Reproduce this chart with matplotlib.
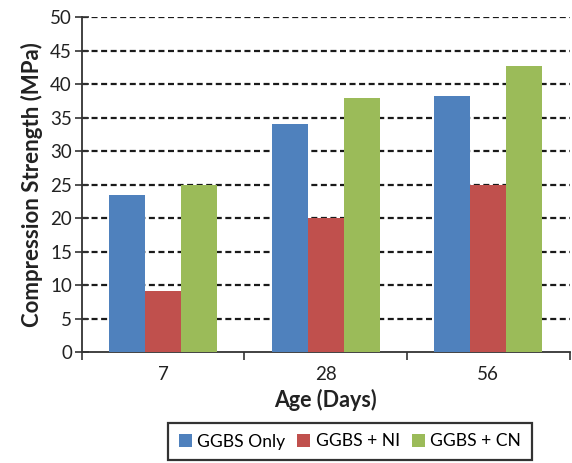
import matplotlib
matplotlib.use("Agg")
import matplotlib.pyplot as plt
import numpy as np

categories = ["7", "28", "56"]
series_names = ["GGBS Only", "GGBS + NI", "GGBS + CN"]
ggbs_only = [23.5, 34.1, 38.2]
ggbs_ni = [9.2, 20.1, 25.0]
ggbs_cn = [25.0, 38.0, 42.7]
y_ticks = [0, 5, 10, 15, 20, 25, 30, 35, 40, 45, 50]
colors = ["#4F81BD", "#C0504D", "#9BBB59"]

plt.rcParams['font.family'] = ['Lato', 'DejaVu Sans']

W, H = 572, 463
fig = plt.figure(figsize=(W / 100, H / 100), dpi=100)
left, right = 81.7 / W, 569.5 / W
bottom, top = (H - 352.3) / H, (H - 17.3) / H
ax = fig.add_axes([left, bottom, right - left, top - bottom])

x = np.arange(len(categories))
bw = 0.221
data = [ggbs_only, ggbs_ni, ggbs_cn]
handles = []
for i, (vals, c, name) in enumerate(zip(data, colors, series_names)):
    b = ax.bar(x + (i - 1) * bw, vals, width=bw, color=c, label=name, zorder=3)
    handles.append(b)

ax.set_xlim(-0.5, 2.5)
ax.set_ylim(0, 50)
ax.set_yticks(y_ticks)
ax.set_yticklabels([str(t) for t in y_ticks], fontsize=13.5, color="#222222")

# gridlines (dashed)
for t in y_ticks[1:]:
    ax.axhline(t, color="#1a1a1a", lw=1.6, linestyle=(0, (2.7, 1.6)), zorder=1)

# x ticks at category boundaries, labels at centers
ax.set_xticks([-0.5, 0.5, 1.5, 2.5])
ax.set_xticklabels([])
ax.set_xticks(x, minor=True)
ax.set_xticklabels(categories, minor=True, fontsize=13.5, color="#222222")
ax.tick_params(axis='x', which='minor', length=0, pad=10)
ax.tick_params(axis='x', which='major', direction='out', length=6, width=1.2, color="#333333")
ax.tick_params(axis='y', direction='inout', length=10, width=1.2, color="#333333", pad=2)

for s in ["top", "right"]:
    ax.spines[s].set_visible(False)
for s in ["left", "bottom"]:
    ax.spines[s].set_color("#333333")
    ax.spines[s].set_linewidth(1.3)

ax.set_ylabel("Compression Strength (MPa)", fontsize=16, fontweight="bold", color="#222222", labelpad=5)
ax.set_xlabel("Age (Days)", fontsize=15.5, fontweight="bold", color="#222222", labelpad=4)

leg = fig.legend(handles=handles, labels=series_names, loc="upper left",
                 bbox_to_anchor=(168 / W, (H - 423) / H), ncol=3, fontsize=12.6,
                 frameon=True, fancybox=False, handlelength=0.75, handleheight=0.75,
                 handletextpad=0.3, columnspacing=0.7, borderpad=0.6,
                 borderaxespad=0)
leg.get_frame().set_edgecolor("black")
leg.get_frame().set_linewidth(1.6)

fig.savefig("out.png", dpi=100)
